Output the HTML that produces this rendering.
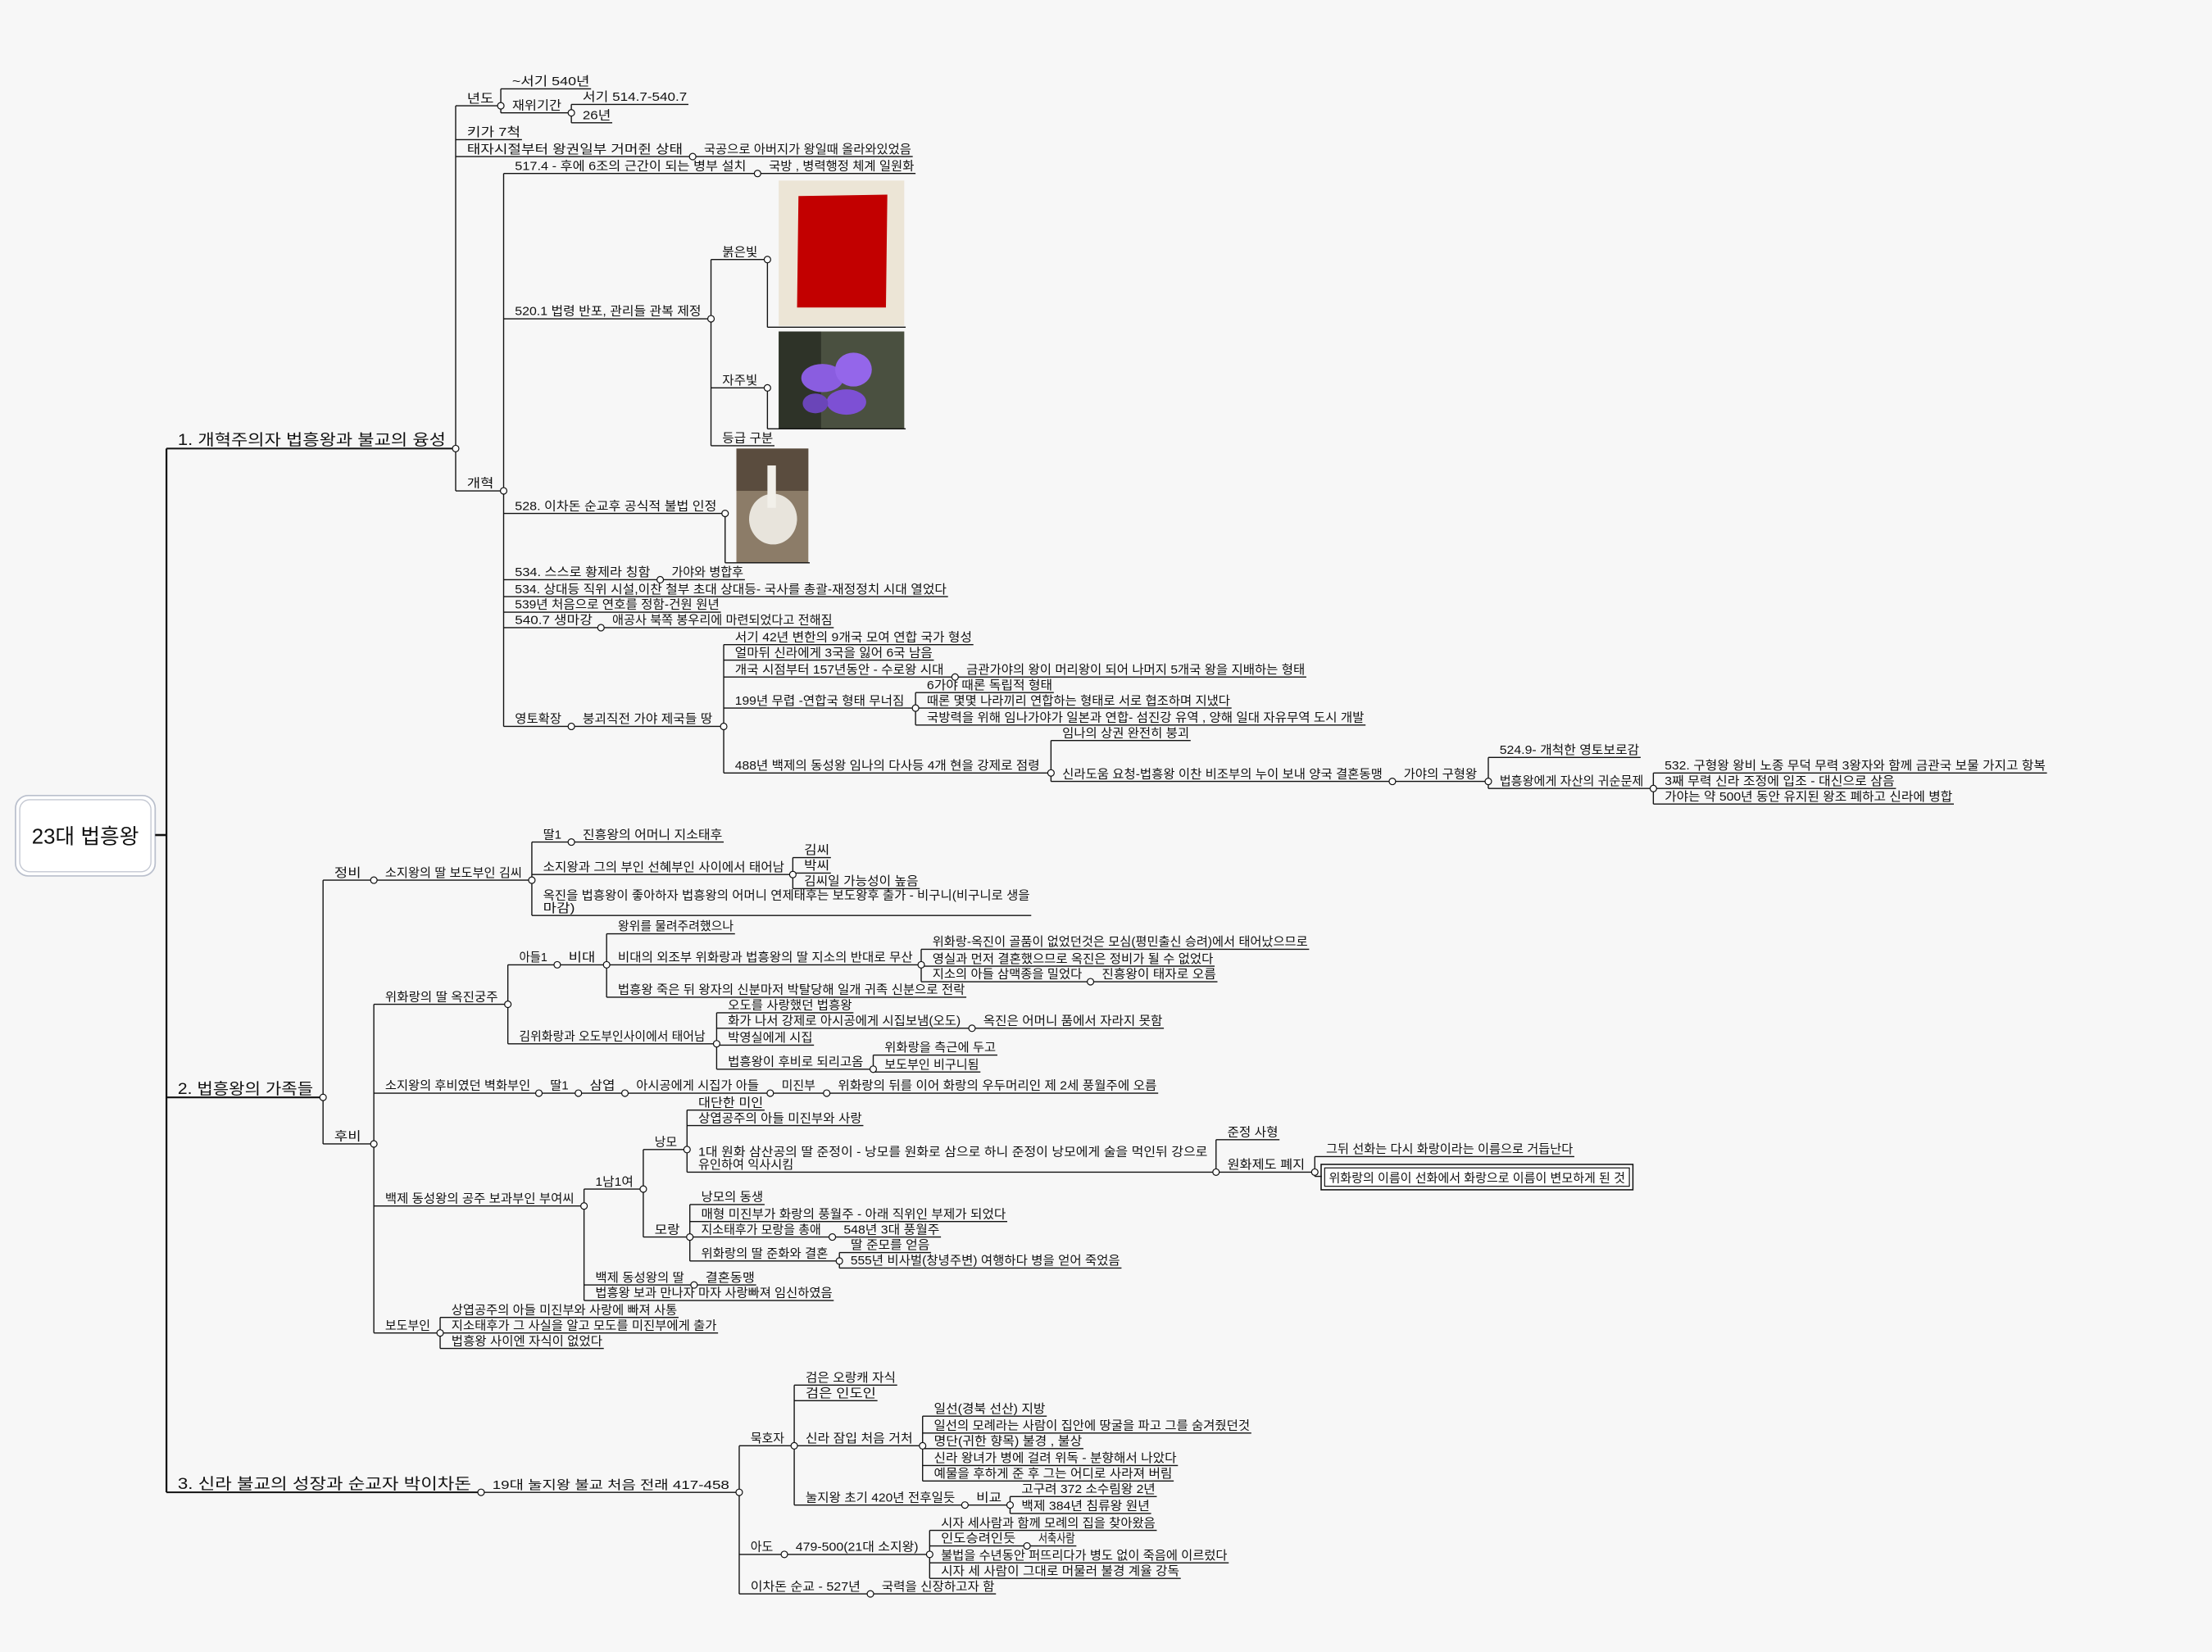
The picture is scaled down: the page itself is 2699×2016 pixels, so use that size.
<!DOCTYPE html>
<html><head><meta charset="utf-8">
<style>
html,body{margin:0;padding:0;background:#f7f7f7;}
svg{display:block;}
text{font-family:"Liberation Sans","Noto Sans CJK KR","NanumGothic",sans-serif;fill:#111;}
</style></head>
<body>
<svg id="s" xmlns="http://www.w3.org/2000/svg" width="2699" height="2016" viewBox="0 0 1568 1171.2">
<rect x="0" y="0" width="1568" height="1172" fill="#f7f7f7"/>
<rect x="552" y="128" width="89" height="103" fill="#ece5d6"/>
<polygon points="566,139 629,138 628,218 565,218" fill="#c20000"/>
<rect x="552" y="235" width="89" height="69" fill="#4a5040"/>
<rect x="552" y="235" width="30" height="69" fill="#2e3328"/>
<ellipse cx="583" cy="268" rx="15" ry="10" fill="#8a5de0"/>
<ellipse cx="605" cy="262" rx="13" ry="12" fill="#9466ea"/>
<ellipse cx="600" cy="285" rx="14" ry="9" fill="#7d50d4"/>
<ellipse cx="578" cy="286" rx="9" ry="7" fill="#6a45b8"/>
<rect x="522" y="318" width="51" height="81" fill="#8c7c68"/>
<rect x="522" y="318" width="51" height="30" fill="#5a4c3e"/>
<ellipse cx="548" cy="368" rx="17" ry="18" fill="#e8e4dc"/>
<rect x="544" y="330" width="6" height="30" fill="#f2f0ea"/>
<rect x="936.5" y="825.5" width="221" height="18" fill="#fff" stroke="#111" stroke-width="0.9"/>
<rect x="939" y="828" width="216" height="13" fill="none" stroke="#111" stroke-width="0.7"/>
<text x="942" y="838" font-size="8.5" textLength="210" lengthAdjust="spacingAndGlyphs">위화랑의 이름이 선화에서 화랑으로 이름이 변모하게 된 것</text>
<rect x="11" y="564" width="99" height="57" rx="9" fill="#fff" stroke="#b9bfcc" stroke-width="1"/>
<rect x="14" y="567" width="93" height="51" rx="7" fill="#fff" stroke="#c4c8d2" stroke-width="0.8"/>
<text x="60.5" y="598" font-size="15" text-anchor="middle">23대 법흥왕</text>
<line x1="110" y1="592" x2="118" y2="592" stroke="#111" stroke-width="1.5"/>
<line x1="118" y1="318" x2="118" y2="1058" stroke="#111" stroke-width="1.3"/>
<g id="g"></g>
</svg>
<script>
var NS="http://www.w3.org/2000/svg";
var G=document.getElementById("g");
var L=[],C=[],X=[];
function el(n,a,t){var e=document.createElementNS(NS,n);for(var k in a)e.setAttribute(k,a[k]);if(t!==undefined)e.textContent=t;return e;}
function draw(n,px,d){
  var t=n[0],y=n[1],te=n[2],cx=n[3],kids=n[4];
  var ex=cx||te+1;
  var sw=d==0?1.2:0.8;
  L.push(el("line",{x1:px,y1:y,x2:ex,y2:y,stroke:"#111","stroke-width":sw}));
  if(t){
    var fs=d==0?11:8.5;
    var lines=t.split("\n");
    var tx=px+8;
    for(var i=0;i<lines.length;i++){
      var by=y-2.5-(lines.length-1-i)*9;
      var w=(i==0?te-tx:lines[i].length*7.5);
      var a={x:tx,y:by,"font-size":fs};
      if(w>4){a.textLength=w;a.lengthAdjust="spacingAndGlyphs";}
      X.push(el("text",a,lines[i]));
    }
  }
  if(cx){
    if(kids&&kids.length){
      var mn=y,mx=y;
      kids.forEach(function(k){mn=Math.min(mn,k[1]);mx=Math.max(mx,k[1]);});
      L.push(el("line",{x1:cx,y1:mn,x2:cx,y2:mx,stroke:"#111","stroke-width":0.8}));
      kids.forEach(function(k){draw(k,cx,d+1);});
    }
    C.push(el("circle",{cx:cx,cy:y,r:2.3,fill:"#fff",stroke:"#111","stroke-width":0.7}));
  }
}
var A=["1. 개혁주의자 법흥왕과 불교의 융성",318,316,323,[
 ["년도",75,350,355,[["~서기 540년",63,418],["재위기간",80,398,405,[["서기 514.7-540.7",74,487],["26년",87,433]]]]],
 ["키가 7척",99,369],
 ["태자시절부터 왕권일부 거머쥔 상태",111,484,491,[["국공으로 아버지가 왕일때 올라와있었음",111,646]]],
 ["개혁",348,350,357,[
  ["517.4 - 후에 6조의 근간이 되는 병부 설치",123,529,537,[["국방 , 병력행정 체계 일원화",123,648]]],
  ["520.1 법령 반포, 관리들 관복 제정",226,497,504,[["붉은빛",184,537,544,[["",232,641]]],["자주빛",275,537,544,[["",304,641]]],["등급 구분",316,548]]],
  ["528. 이차돈 순교후 공식적 불법 인정",364,508,514,[["",399,573]]],
  ["534. 스스로 황제라 칭함",411,461,468,[["가야와 병합후",411,527]]],
  ["534. 상대등 직위 시설,이찬 철부 초대 상대등- 국사를 총괄-재정정치 시대 열었다",423,671],
  ["539년 처음으로 연호를 정함-건원 원년",434,510],
  ["540.7 생마강",445,420,426,[["애공사 북쪽 봉우리에 마련되었다고 전해짐",445,590]]],
  ["영토확장",515,398,405,[["붕괴직전 가야 제국들 땅",515,505,513,[
   ["서기 42년 변한의 9개국 모여 연합 국가 형성",457,689],
   ["얼마뒤 신라에게 3국을 잃어 6국 남음",468,661],
   ["개국 시점부터 157년동안 - 수로왕 시대",480,669,677,[["금관가야의 왕이 머리왕이 되어 나머지 5개국 왕을 지배하는 형태",480,925]]],
   ["199년 무렵 -연합국 형태 무너짐",502,641,649,[["6가야 때론 독립적 형태",491,746],["때론 몇몇 나라끼리 연합하는 형태로 서로 협조하며 지냈다",502,872],["국방력을 위해 임나가야가 일본과 연합- 섬진강 유역 , 양해 일대 자유무역 도시 개발",514,967]]],
   ["488년 백제의 동성왕 임나의 다사등 4개 현을 강제로 점령",548,737,745,[["임나의 상권 완전히 붕괴",525,843],["신라도움 요청-법흥왕 이찬 비조부의 누이 보내 양국 결혼동맹",554,980,987,[["가야의 구형왕",554,1047,1055,[["524.9- 개척한 영토보로감",537,1162],["법흥왕에게 자산의 귀순문제",559,1165,1172,[["532. 구형왕 왕비 노종 무덕 무력 3왕자와 함께 금관국 보물 가지고 항복",548,1450],["3째 무력 신라 조정에 입조 - 대신으로 삼음",559,1343],["가야는 약 500년 동안 유지된 왕조 폐하고 신라에 병합",570,1384]]]]]]]]]
  ]]]]
 ]]
]];
var B=["2. 법흥왕의 가족들",778,222,229,[
 ["정비",624,256,265,[["소지왕의 딸 보도부인 김씨",624,370,377,[
   ["딸1",597,398,405,[["진흥왕의 어머니 지소태후",597,512]]],
   ["소지왕과 그의 부인 선혜부인 사이에서 태어남",620,556,562,[["김씨",608,588],["박씨",619,588],["김씨일 가능성이 높음",630,651]]],
   ["옥진을 법흥왕이 좋아하자 법흥왕의 어머니 연제태후는 보도왕후 출가 - 비구니(비구니로 생을\n마감)",649,730]]]]],
 ["후비",811,256,265,[
   ["위화랑의 딸 옥진궁주",712,353,360,[
     ["아들1",684,388,395,[["비대",684,422,430,[
        ["왕위를 물려주려했으나",662,520],
        ["비대의 외조부 위화랑과 법흥왕의 딸 지소의 반대로 무산",684,647,653,[["위화랑-옥진이 골품이 없었던것은 모심(평민출신 승려)에서 태어났으므로",673,927],["영실과 먼저 결혼했으므로 옥진은 정비가 될 수 없었다",685,860],["지소의 아들 삼맥종을 밀었다",696,767,773,[["진흥왕이 태자로 오름",696,862]]]]],
        ["법흥왕 죽은 뒤 왕자의 신분마저 박탈당해 일개 귀족 신분으로 전락",707,684]]]]],
     ["김위화랑과 오도부인사이에서 태어남",740,500,508,[
        ["오도를 사랑했던 법흥왕",718,604],
        ["화가 나서 강제로 아시공에게 시집보냄(오도)",729,681,689,[["옥진은 어머니 품에서 자라지 못함",729,824]]],
        ["박영실에게 시집",741,576],
        ["법흥왕이 후비로 되리고옴",758,612,619,[["위화랑을 측근에 두고",748,706],["보도부인 비구니됨",760,694]]]]]]],
   ["소지왕의 후비였던 벽화부인",775,376,382,[["딸1",775,403,410,[["삼엽",775,436,443,[["아시공에게 시집가 아들",775,538,546,[["미진부",775,578,586,[["위화랑의 뒤를 이어 화랑의 우두머리인 제 2세 풍월주에 오름",775,820]]]]]]]]]]],
   ["백제 동성왕의 공주 보과부인 부여씨",855,407,414,[
     ["1남1여",843,449,456,[
       ["낭모",815,480,487,[["대단한 미인",787,541],["상엽공주의 아들 미진부와 사랑",798,611],["1대 원화 삼산공의 딸 준정이 - 낭모를 원화로 삼으로 하니 준정이 낭모에게 술을 먹인뒤 강으로\n유인하여 익사시킴",831,856,862,[["준정 사형",808,906],["원화제도 폐지",831,925,932,[["그뒤 선화는 다시 화랑이라는 이름으로 거듭난다",820,1115],["",834,936]]]]]]],
       ["모랑",877,482,489,[["낭모의 동생",854,541],["매형 미진부가 화랑의 풍월주 - 아래 직위인 부제가 되었다",866,713],["지소태후가 모랑을 총애",877,582,590,[["548년 3대 풍월주",877,666]]],["위화랑의 딸 준화와 결혼",894,587,595,[["딸 준모를 얻음",888,659],["555년 비사벌(창녕주변) 여행하다 병을 얻어 죽었음",899,794]]]]]]],
     ["백제 동성왕의 딸",911,485,492,[["결혼동맹",911,535]]],
     ["법흥왕 보과 만나자 마자 사랑빠져 임신하였음",922,590]]],
   ["보도부인",945,305,312,[["상엽공주의 아들 미진부와 사랑에 빠져 사통",934,480],["지소태후가 그 사실을 알고 모도를 미진부에게 출가",945,508],["법흥왕 사이엔 자식이 없었다",956,427]]]]]
]];
var Cn=["3. 신라 불교의 성장과 순교자 박이차돈",1058,334,341,[["19대 눌지왕 불교 처음 전래 417-458",1058,517,524,[
  ["묵호자",1025,556,563,[["검은 오랑캐 자식",982,635],["검은 인도인",993,621],["신라 잠입 처음 거처",1025,647,654,[["일선(경북 선산) 지방",1004,741],["일선의 모례라는 사람이 집안에 땅굴을 파고 그를 숨겨줬던것",1016,886],["명단(귀한 향목) 불경 , 불상",1027,767],["신라 왕녀가 병에 걸려 위독 - 분향해서 나았다",1039,834],["예물을 후하게 준 후 그는 어디로 사라져 버림",1050,831]]],["눌지왕 초기 420년 전후일듯",1067,677,684,[["비교",1067,710,716,[["고구려 372 소수림왕 2년",1061,819],["백제 384년 침류왕 원년",1073,815]]]]]]],
  ["아도",1102,548,556,[["479-500(21대 소지왕)",1102,651,659,[["시자 세사람과 함께 모례의 집을 찾아왔음",1085,819],["인도승려인듯",1096,720,728,[["서축사람",1096,762]]],["불법을 수년동안 퍼뜨리다가 병도 없이 죽음에 이르렀다",1108,870],["시자 세 사람이 그대로 머물러 불경 계율 강독",1119,836]]]]],
  ["이차돈 순교 - 527년",1130,610,617,[["국력을 신장하고자 함",1130,705]]]]]]];
draw(A,118,0);draw(B,118,0);draw(Cn,118,0);
L.forEach(function(e){G.appendChild(e);});
X.forEach(function(e){G.appendChild(e);});
C.forEach(function(e){G.appendChild(e);});
</script>
</body></html>
